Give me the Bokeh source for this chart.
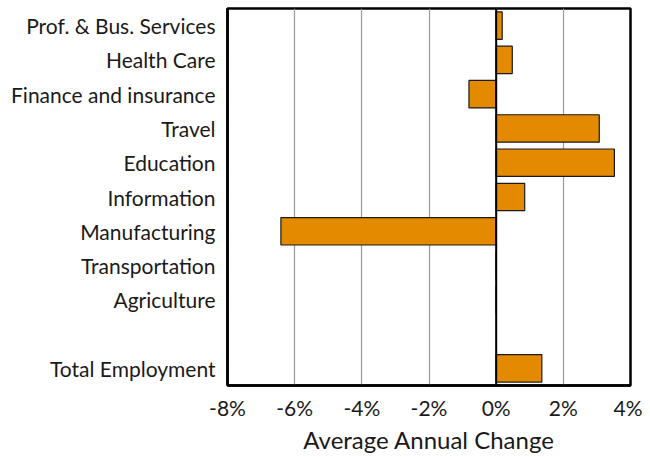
from bokeh.plotting import figure
from bokeh.models import FactorRange, FixedTicker, PrintfTickFormatter, Span, ColumnDataSource
from bokeh.embed import file_html
from bokeh.resources import INLINE

categories = ["Prof. & Bus. Services", "Health Care", "Finance and insurance", "Travel",
              "Education", "Information", "Manufacturing", "Transportation", "Agriculture",
              " ", "Total Employment"]
values = [0.18, 0.48, -0.81, 3.07, 3.52, 0.85, -6.41, 0.0, 0.0, None, 1.36]
x_ticks = [-8, -6, -4, -2, 0, 2, 4]

cats = [c for c, v in zip(categories, values) if v is not None]
vals = [v for v in values if v is not None]
src = ColumnDataSource(dict(cat=cats, val=vals))

FONT = "Lato"
p = figure(y_range=FactorRange(*reversed(categories)), x_range=(-8, 4),
           frame_width=403, frame_height=377, output_backend="svg", toolbar_location=None,
           min_border_left=227, min_border_right=12, min_border_top=8, min_border_bottom=2)

p.hbar(y="cat", left=0, right="val", height=0.8, source=src,
       fill_color="#E38A00", line_color="#1a1a1a", line_width=1.2)

p.add_layout(Span(location=0, dimension="height", line_color="black", line_width=2))

p.outline_line_color = "black"
p.outline_line_width = 2.5
p.ygrid.grid_line_color = None
p.xgrid.grid_line_color = "#999999"
p.xgrid.grid_line_width = 1.2
p.xaxis.ticker = FixedTicker(ticks=x_ticks)
p.xaxis.formatter = PrintfTickFormatter(format="%d%%")

for ax in (p.xaxis[0], p.yaxis[0]):
    ax.axis_line_color = "black"
    ax.axis_line_width = 2.5
    ax.major_tick_line_color = None
    ax.minor_tick_line_color = None
    ax.major_label_text_font = FONT
    ax.major_label_text_font_size = "21px"
    ax.major_label_text_color = "#1a1a1a"

p.yaxis.major_label_standoff = 6
p.xaxis.major_label_standoff = 3
p.xaxis.axis_label = "Average Annual Change"
p.xaxis.axis_label_text_font = FONT
p.xaxis.axis_label_text_font_style = "normal"
p.xaxis.axis_label_text_font_size = "24px"
p.xaxis.axis_label_text_color = "#1a1a1a"
p.xaxis.axis_label_standoff = 2

open("out.html", "w").write(file_html(p, INLINE))
